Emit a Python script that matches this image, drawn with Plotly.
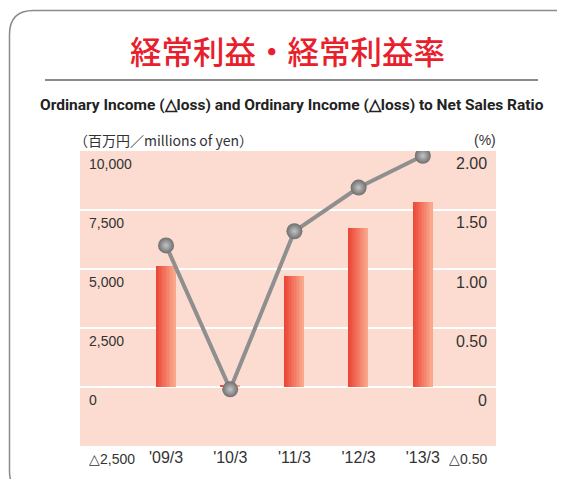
import plotly.graph_objects as go

# ---- data ----
categories = ["'09/3", "'10/3", "'11/3", "'12/3", "'13/3"]
ordinary_income = [5130, 80, 4700, 6740, 7850]        # millions of yen
income_ratio = [1.20, -0.02, 1.32, 1.69, 1.96]          # %
left_ticks = [-2500, 0, 2500, 5000, 7500, 10000]
left_tick_text = ["△2,500", "0", "2,500", "5,000", "7,500", "10,000"]
right_ticks = [-0.5, 0, 0.5, 1.0, 1.5, 2.0]
right_tick_text = ["△0.50", "0", "0.50", "1.00", "1.50", "2.00"]

# page has an 8px body margin; size the figure so it fits the window
OFF = 8
W, H = 565 - OFF, 479 - OFF
def px(x):
    return (x - OFF) / W
def py(y):
    return 1 - (y - OFF) / H

fig = go.Figure()

# gradient bars: split each bar into thin slices
N = 12
bw = 0.30
c0 = (236, 72, 56)
c1 = (250, 168, 140)
xi = list(range(len(categories)))
for i in range(N):
    t = i / (N - 1)
    col = "rgb(%d,%d,%d)" % tuple(round(a + (b - a) * t) for a, b in zip(c0, c1))
    fig.add_trace(go.Bar(
        x=xi, y=ordinary_income, width=bw / N * 1.05, offset=-bw / 2 + i * bw / N,
        marker=dict(color=col, line=dict(width=0)), showlegend=False,
        hoverinfo="skip", yaxis="y"))

fig.add_trace(go.Scatter(
    x=xi, y=income_ratio, yaxis="y2", mode="lines+markers",
    line=dict(color="#8f8f8f", width=4),
    marker=dict(size=16, color="#6e6e6e",
                gradient=dict(type="radial", color="#c4c4c4"),
                line=dict(width=0)),
    showlegend=False))

fig.update_layout(
    width=W, height=H,
    margin=dict(l=0, r=0, t=0, b=0),
    paper_bgcolor="white",
    plot_bgcolor="#fcdcd0",
    barmode="overlay",
    bargap=0,
    xaxis=dict(domain=[px(80), px(496)], range=[-1.34, 5.14],
               tickvals=xi, ticktext=categories, showgrid=False, zeroline=False,
               ticks="", showline=False,
               tickfont=dict(family="Liberation Sans", size=16, color="#333333")),
    yaxis=dict(domain=[py(446), py(151)], range=[-2500, 10000],
               tickvals=[0, 2500, 5000, 7500], showticklabels=False,
               gridcolor="white", gridwidth=2, zeroline=False, showline=False),
    yaxis2=dict(range=[-0.5, 2.0], overlaying="y", side="right",
                showgrid=False, zeroline=False, showticklabels=False, showline=False),
    font=dict(family="Liberation Sans", color="#333333"),
)

ann = []
for v, t in zip(left_ticks, left_tick_text):
    ann.append(dict(x=px(87), xref="paper", y=v, yref="y", yshift=-13,
                    text=t, showarrow=False, xanchor="left", yanchor="middle",
                    font=dict(size=14, color="#333333")))
for v, t in zip(right_ticks, right_tick_text):
    ann.append(dict(x=px(489), xref="paper", y=v, yref="y2", yshift=-13,
                    text=t, showarrow=False, xanchor="right", yanchor="middle",
                    font=dict(size=16 if v >= 0 else 14, color="#333333")))
ann.append(dict(x=px(287), y=py(50), xref="paper", yref="paper",
                text="経常利益・経常利益率", showarrow=False,
                xanchor="center", yanchor="middle",
                font=dict(family="Noto Sans CJK JP", weight=500, size=31.5, color="#e8202c")))
ann.append(dict(x=px(292), y=py(105), xref="paper", yref="paper",
                text="Ordinary Income (△loss) and Ordinary Income (△loss) to Net Sales Ratio",
                showarrow=False, xanchor="center", yanchor="middle",
                font=dict(family="Roboto", weight=700, size=15.5, color="#222222")))
ann.append(dict(x=px(72), y=py(140), xref="paper", yref="paper",
                text="（百万円／millions of yen）", showarrow=False,
                xanchor="left", yanchor="middle",
                font=dict(family="Noto Sans CJK JP", size=14, color="#333333")))
ann.append(dict(x=px(498), y=py(140), xref="paper", yref="paper",
                text="(%)", showarrow=False, xanchor="right", yanchor="middle",
                font=dict(size=14, color="#333333")))
fig.update_layout(annotations=ann)

# rounded frame
L, T, R, B, r = 9.5, 10.5, 585, 495, 24
def pt(x, y):
    return "%.5f,%.5f" % (px(x), py(y))
path = ("M " + pt(L, T + r) + " Q " + pt(L, T) + " " + pt(L + r, T) +
        " L " + pt(R - r, T) + " Q " + pt(R, T) + " " + pt(R, T + r) +
        " L " + pt(R, B - r) + " Q " + pt(R, B) + " " + pt(R - r, B) +
        " L " + pt(L + r, B) + " Q " + pt(L, B) + " " + pt(L, B - r) + " Z")
fig.add_shape(type="path", path=path, xref="paper", yref="paper",
              line=dict(color="#8a8a8a", width=1.5), layer="below")
fig.add_shape(type="line", xref="paper", yref="paper",
              x0=px(45), x1=px(538), y0=py(80), y1=py(80),
              line=dict(color="#8a8a8a", width=2))

fig.write_html("out.html")
